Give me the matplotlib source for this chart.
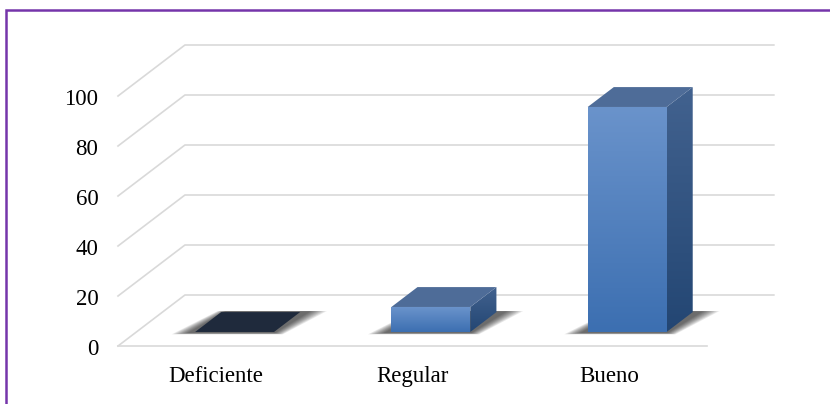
import numpy as np
import matplotlib
matplotlib.use("Agg")
import matplotlib.pyplot as plt
from matplotlib.patches import Polygon, Rectangle
from matplotlib.colors import LinearSegmentedColormap

categorias = ["Deficiente", "Regular", "Bueno"]
valores = [0, 10, 90]
ticks_y = [0, 20, 40, 60, 80, 100]

# perspectiva: desplazamiento del fondo (en unidades de categoria y de valor)
DX = 0.341
DY = 20.4
D0, D1 = 0.275, 0.665   # profundidad de las barras
ANCHO = 0.402

plt.rcParams['font.family'] = ['Liberation Serif', 'DejaVu Serif']

fig = plt.figure(figsize=(8.3, 4.04), dpi=100)
ax = fig.add_axes([0, 0, 1, 1])
# escala: 196.3 px por categoria, 2.5 px por unidad de valor
ax.set_xlim(-0.5 - 118 / 196.3, -0.5 + (830 - 118) / 196.3)
ax.set_ylim((346 - 404) / 2.5, 346 / 2.5)
ax.axis('off')


def p(x, v, d):
    return (x + d * DX, v + d * DY)


# marco
ax.add_patch(Rectangle((6 / 830, -0.1), 1.2, 1.1 - 10.5 / 404, transform=ax.transAxes,
                       fill=False, ec='#7535AA', lw=1.8, clip_on=False))

gris = '#D9D9D9'
for t in ticks_y:
    a = p(-0.5, t, 0)
    b = p(-0.5, t, 1)
    c = p(2.5, t, 1)
    ax.plot([a[0], b[0], c[0]], [a[1], b[1], c[1]], color=gris, lw=1.2, zorder=1)
    ax.text(a[0] - 0.1, t - 3.6, str(t), ha='right', va='baseline', fontsize=16.5)
ax.plot([-0.5, 2.5], [0, 0], color=gris, lw=1.2, zorder=1)

for i, cat in enumerate(categorias):
    ax.text(i, -14.4, cat, ha='center', va='baseline', fontsize=16.5)

cm_frente = LinearSegmentedColormap.from_list('f', ['#3C6FB1', '#6A93CB'])
cm_lado = LinearSegmentedColormap.from_list('l', ['#234673', '#42628F'])
grad = np.linspace(0, 1, 256).reshape(-1, 1)

for i, v in enumerate(valores):
    x0 = i - ANCHO / 2
    x1 = i + ANCHO / 2
    # sombra difusa bajo la barra
    for k in range(10):
        e = 0.009 * (10 - k)
        base = [p(x0 - 0.03 - e, -0.4 - e * 6, D0), p(x1 + e * 0.5, -0.4 - e * 6, D0),
                p(x1 + 0.04 + e, 0, D1 + 0.02), p(x0 + 0.02 - e * 0.5, 0, D1 + 0.02)]
        ax.add_patch(Polygon(base, closed=True, fc='black', ec='none', alpha=0.08, zorder=2))
    if v <= 0:
        tapa = [p(x0, 0, D0), p(x1, 0, D0), p(x1, 0, D1), p(x0, 0, D1)]
        ax.add_patch(Polygon(tapa, closed=True, fc='#1F2A3C', ec='none', zorder=3))
        continue
    frente = Polygon([p(x0, 0, D0), p(x1, 0, D0), p(x1, v, D0), p(x0, v, D0)],
                     closed=True, fc='none', ec='none')
    ax.add_patch(frente)
    fx0, fy0 = p(x0, 0, D0)
    fx1, fy1 = p(x1, v, D0)
    im = ax.imshow(grad, cmap=cm_frente, origin='lower', aspect='auto',
                   extent=[fx0, fx1, fy0, fy1], zorder=4)
    im.set_clip_path(frente)
    lado_pts = [p(x1, 0, D0), p(x1, 0, D1), p(x1, v, D1), p(x1, v, D0)]
    lado = Polygon(lado_pts, closed=True, fc='none', ec='none')
    ax.add_patch(lado)
    lx0, ly0 = p(x1, 0, D0)
    lx1, ly1 = p(x1, v, D1)
    im2 = ax.imshow(grad, cmap=cm_lado, origin='lower', aspect='auto',
                    extent=[lx0, lx1, ly0, ly1], zorder=4)
    im2.set_clip_path(lado)
    tapa = [p(x0, v, D0), p(x1, v, D0), p(x1, v, D1), p(x0, v, D1)]
    ax.add_patch(Polygon(tapa, closed=True, fc='#4E6C98', ec='none', zorder=5))

ax.set_xlim(-0.5 - 118 / 196.3, -0.5 + (830 - 118) / 196.3)
ax.set_ylim((346 - 404) / 2.5, 346 / 2.5)

fig.savefig('out.png', dpi=100)
